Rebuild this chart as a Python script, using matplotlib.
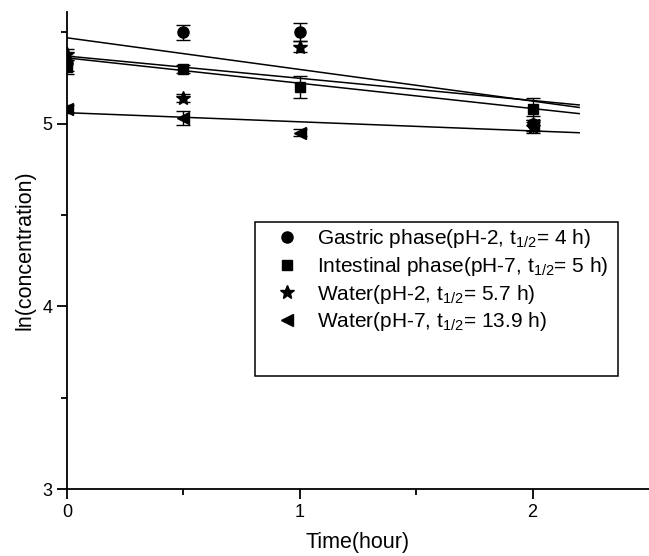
import numpy as np
import matplotlib.pyplot as plt
from matplotlib.patches import Rectangle

plt.rcParams['font.family'] = ['Liberation Sans', 'DejaVu Sans']
plt.rcParams['mathtext.fontset'] = 'custom'
plt.rcParams['mathtext.rm'] = 'Liberation Sans'
plt.rcParams['mathtext.it'] = 'Liberation Sans'

# data
time = [0, 0.5, 1, 2]
gastric = [5.33, 5.50, 5.50, 5.00]
gastric_err = [0.04, 0.04, 0.05, 0.04]
intestinal = [5.31, 5.30, 5.20, 5.08]
intestinal_err = [0.04, 0.02, 0.06, 0.06]
water2 = [5.38, 5.14, 5.42, 4.98]
water2_err = [0.03, 0.02, 0.03, 0.03]
water7 = [5.08, 5.03, 4.95, 4.99]
water7_err = [0.02, 0.04, 0.02, 0.03]

# first order fits: intercept, half life (h)
fit_b = [5.47, 5.36, 5.37, 5.06]
half_life = [4, 5, 5.7, 13.9]
fit_t = [0, 2.2]

labels = [r'Gastric phase(pH-2, t$_{1/2}$= 4 h)',
          r'Intestinal phase(pH-7, t$_{1/2}$= 5 h)',
          r'Water(pH-2, t$_{1/2}$= 5.7 h)',
          r'Water(pH-7, t$_{1/2}$= 13.9 h)']
markers = ['o', 's', '*', '<']
msizes = [8, 7, 10, 8]

fig = plt.figure(figsize=(6.49, 5.56), dpi=100)
ax = fig.add_axes([0.1032, 0.1205, 0.8968, 0.8575])

series = [(gastric, gastric_err), (intestinal, intestinal_err),
          (water2, water2_err), (water7, water7_err)]
handles = []
for i, (y, e) in enumerate(series):
    ax.errorbar(time, y, yerr=e, fmt='none', ecolor='black', elinewidth=1,
                capsize=5, capthick=1, zorder=3)
    h, = ax.plot(time, y, ls='none', marker=markers[i], ms=msizes[i],
                 color='black', zorder=4)
    handles.append(h)
    k = np.log(2) / half_life[i]
    ax.plot(fit_t, [fit_b[i] - k * t for t in fit_t], color='black', lw=1.1, zorder=2)

ax.set_xlim(0, 2.5)
ax.set_ylim(3, 5.61)
ax.set_xticks([0, 1, 2])
ax.set_xticks([0.5, 1.5], minor=True)
ax.set_yticks([3, 4, 5])
ax.set_yticks([3.5, 4.5, 5.5], minor=True)
ax.spines['top'].set_visible(False)
ax.spines['right'].set_visible(False)
for s in ['left', 'bottom']:
    ax.spines[s].set_linewidth(1.3)
ax.tick_params(which='major', direction='out', length=7, width=1.3, labelsize=13)
ax.tick_params(which='minor', direction='out', length=4, width=1.3)
ax.set_xlabel('Time(hour)', fontsize=15.5, labelpad=8)
ax.set_ylabel('ln(concentration)', fontsize=15.5, labelpad=5)

ax.add_patch(Rectangle((0.323, 0.237), 0.624, 0.323, transform=ax.transAxes,
                       fill=False, edgecolor='black', lw=1.1, zorder=5))
ax.legend(handles, labels, loc='upper left', bbox_to_anchor=(0.3245, 0.588),
          frameon=False, fontsize=15, handlelength=1.2, handletextpad=0.83,
          labelspacing=0.22, borderpad=0.4)

fig.savefig('out.png', dpi=100)
